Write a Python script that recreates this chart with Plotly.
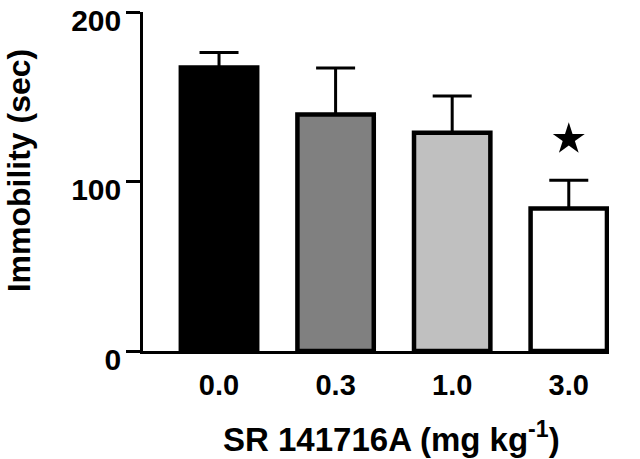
import plotly.graph_objects as go

doses = ["0.0", "0.3", "1.0", "3.0"]
immobility = [167.3, 139.6, 128.8, 84.0]
sem = [8.8, 27.4, 21.6, 16.7]
bar_colors = ["#000000", "#808080", "#c0c0c0", "#ffffff"]
star_dose = ["3.0"]
star_y = [125]
x_title = "<b>SR 141716A (mg kg<sup>-1</sup>)</b>"
y_title = "<b>Immobility (sec)</b>"

FONT = "Liberation Sans, Arial, sans-serif"

fig = go.Figure()
fig.add_trace(go.Bar(
    x=doses, y=immobility, width=0.655,
    marker=dict(color=bar_colors, line=dict(color="black", width=4.5)),
    error_y=dict(type="data", symmetric=False, array=sem,
                 arrayminus=[0] * len(sem), color="black",
                 thickness=3, width=19.5),
    showlegend=False, hoverinfo="skip",
))
fig.add_trace(go.Scatter(
    x=star_dose, y=star_y, mode="markers",
    marker=dict(symbol="star", size=24, color="black"),
    showlegend=False, hoverinfo="skip", cliponaxis=False,
))

fig.update_layout(
    width=640, height=459,
    margin=dict(l=143, r=31, t=12, b=108),
    paper_bgcolor="white", plot_bgcolor="white",
    font=dict(family=FONT, color="black"),
    bargap=0.35,
)
fig.update_xaxes(
    type="category", range=[-0.652, 3.345], automargin=False,
    showline=True, linecolor="black", linewidth=2.5,
    ticks="", showgrid=False, zeroline=False,
    tickfont=dict(size=29, family=FONT, weight="bold"),
    ticklabelstandoff=6,
)
fig.update_yaxes(
    range=[0, 200], tickvals=[0, 100, 200], automargin=False,
    showline=True, linecolor="black", linewidth=2.5,
    ticks="outside", ticklen=14, tickwidth=2.5, tickcolor="black",
    showgrid=False, zeroline=False, ticklabeloverflow="allow",
    tickfont=dict(size=30, family=FONT, weight="bold"),
    ticklabelstandoff=-1, ticklabelshift=8,
)
fig.add_annotation(
    text=x_title, xref="paper", yref="paper", x=0.534, y=-0.2546,
    xanchor="center", yanchor="middle", showarrow=False,
    font=dict(size=33, family=FONT, color="black"),
)
fig.add_annotation(
    text=y_title, xref="paper", yref="paper", x=-0.266, y=0.533,
    xanchor="center", yanchor="middle", showarrow=False, textangle=-90,
    font=dict(size=32, family=FONT, color="black"),
)

fig.write_html("out.html", config={"displayModeBar": False},
               post_script="document.body.style.margin='0';")
